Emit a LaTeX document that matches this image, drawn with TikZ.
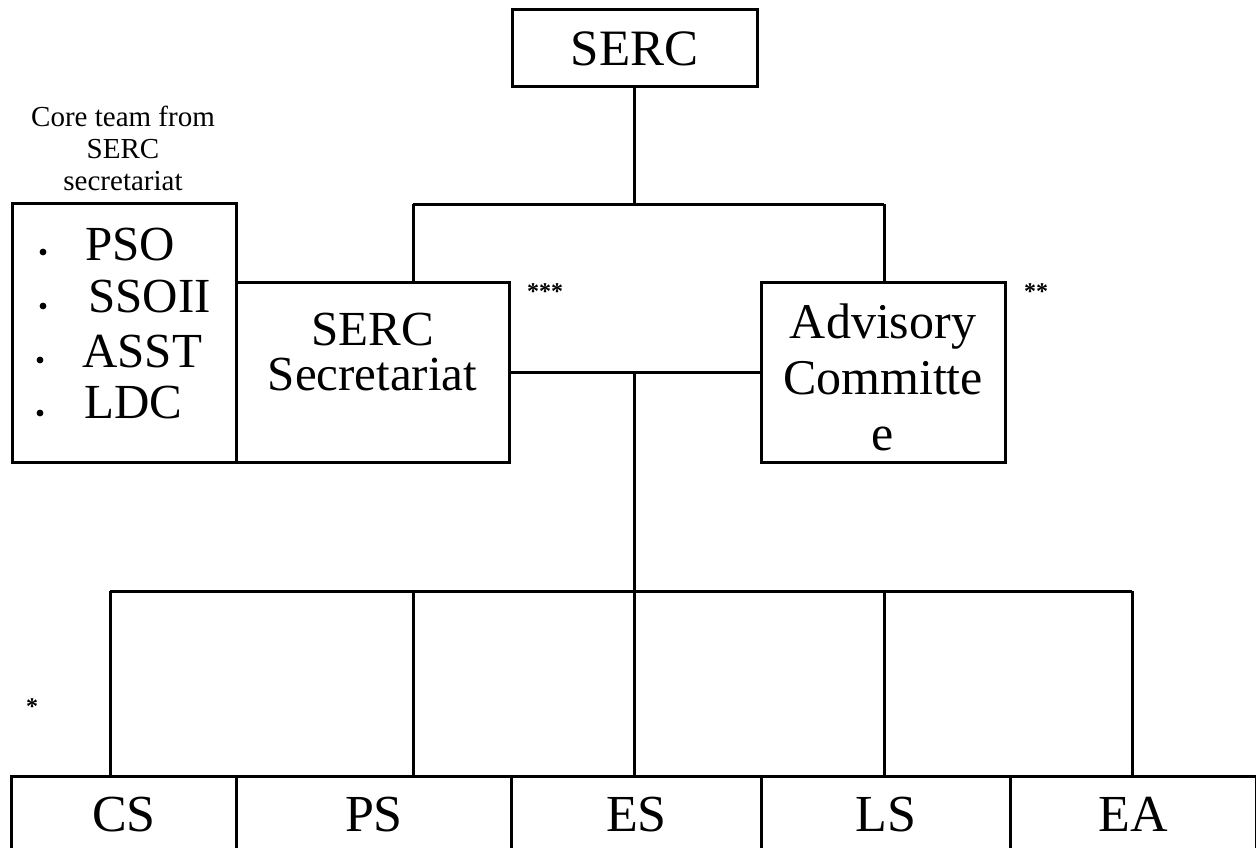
\documentclass[tikz,border=0pt]{standalone}
\usepackage{fontspec}
\setmainfont{Liberation Serif}
\begin{document}
\begin{tikzpicture}[x=1pt,y=-1pt,
  box/.style={draw,line width=3pt,inner sep=0pt,align=center},
  wire/.style={line width=3pt},
  big/.style={font=\fontsize{49}{45}\selectfont},
  lbl/.style={inner sep=0pt,align=center,anchor=base},
  star/.style={inner sep=0pt,font=\bfseries\fontsize{24}{24}\selectfont}]
\clip (0,0) rectangle (1256,848);
\fill[white] (0,0) rectangle (1256,848);
% boxes
\node[box,font=\fontsize{51}{51}\selectfont,minimum width=245pt,minimum height=77pt] (serc) at (634.5,48.5) {SERC};
\node[box,minimum width=224pt,minimum height=259pt] (core) at (124,332.5) {};
\node[box,minimum width=273pt,minimum height=180pt] (sec) at (372.5,372) {};
\node[box,minimum width=244pt,minimum height=180pt] (adv) at (883,372) {};
\node[lbl,big] (sect) at (372.5,390) {SERC\\Secretariat};
\node[lbl,font=\fontsize{50}{56}\selectfont] (advt) at (883,450) {Advisory\\Committe\\e};
% core team caption and list
\node[lbl,font=\fontsize{29}{32}\selectfont] (cap) at (123,190) {Core team from\\SERC\\secretariat};
\node[anchor=base west,inner sep=0pt,big] (pso) at (85,260) {PSO};
\node[anchor=base west,inner sep=0pt,big] (sso) at (88,312) {SSOII};
\node[anchor=base west,inner sep=0pt,big] (asst) at (82,367) {ASST};
\node[anchor=base west,inner sep=0pt,big] (ldc) at (84,418) {LDC};
\fill (43,252) circle (3.4pt);
\fill (43,306) circle (3.4pt);
\fill (40,360) circle (3.4pt);
\fill (40,413) circle (3.4pt);
% bottom boxes
\tikzset{bot/.style={box,font=\fontsize{52}{52}\selectfont,minimum height=76pt,anchor=north west}}
\node[bot,minimum width=225pt] (cs) at (10,775) {CS};
\node[bot,minimum width=275pt] (ps) at (235,775) {PS};
\node[bot,minimum width=250pt] (es) at (510,775) {ES};
\node[bot,minimum width=249pt] (ls) at (760,775) {LS};
\node[bot,minimum width=246pt] (ea) at (1009,775) {EA};
% asterisks
\node[star] (s3) at (545,292) {***};
\node[star] (s2) at (1036,292) {**};
\node[star] (s1) at (32,707) {*};
% connectors
\coordinate (b1l) at (413,204);
\coordinate (b1r) at (884,204);
\draw[wire] (serc.south) -- (serc.south |- b1l);
\draw[wire] (b1l) -- (b1r);
\draw[wire] (b1l) -- (b1l |- sec.north);
\draw[wire] (b1r) -- (b1r |- adv.north);
\draw[wire] (sec.east) -- (adv.west);
\coordinate (j) at (634.5,372);
\coordinate (b2) at (634.5,591);
\draw[wire] (j) -- (b2);
\coordinate (b2l) at (110,591);
\coordinate (b2r) at (1132,591);
\coordinate (b2a) at (413,591);
\coordinate (b2b) at (884,591);
\draw[wire] (b2l) -- (b2r);
\draw[wire] (b2l) -- (b2l |- cs.north);
\draw[wire] (b2a) -- (b2a |- ps.north);
\draw[wire] (b2) -- (b2 |- es.north);
\draw[wire] (b2b) -- (b2b |- ls.north);
\draw[wire] (b2r) -- (b2r |- ea.north);
\end{tikzpicture}
\end{document}
